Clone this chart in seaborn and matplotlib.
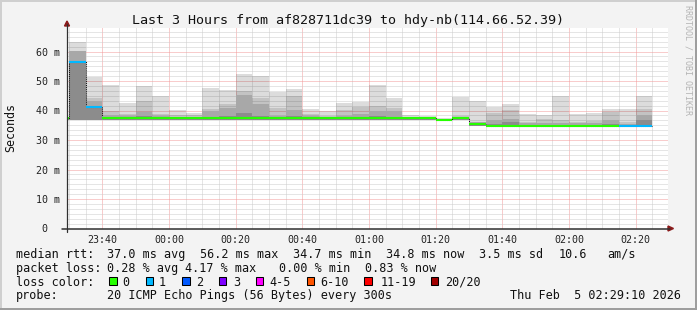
import numpy as np
import pandas as pd
import matplotlib
matplotlib.use("Agg")
import matplotlib.pyplot as plt
from matplotlib.patches import Rectangle, Polygon
from matplotlib.lines import Line2D
import seaborn as sns

# ---------------- data ----------------
bin_times = list(pd.date_range("2026-02-04 23:25", periods=36, freq="5min"))  # 5-minute steps
median_rtt = [37.3, 56.4, 41.3, 37.3, 37.3, 37.3, 37.3, 37.3, 37.3, 37.3,
              37.3, 37.3, 37.3, 37.3, 37.3, 37.3, 37.3, 37.3, 37.3, 37.3,
              37.3, 37.3, 37.3, 36.8, 37.5, 35.3, 34.9, 34.9, 34.9, 34.9,
              34.9, 34.9, 34.9, 34.9, 34.9, 34.9]
loss_count = [0, 1, 1, 0, 0, 0, 0, 0, 0, 0, 0, 0, 0, 0, 0, 0, 0, 0, 0, 0,
              0, 0, 0, 0, 0, 0, 0, 0, 0, 0, 0, 0, 0, 0, 1, 1]
smoke_bottom = [36.9] * 25 + [34.8] * 11
smoke_max = [37.3, 63.2, 51.3, 48.5, 42.5, 48.2, 44.8, 40.3, 39.2, 47.6,
             46.9, 52.3, 51.7, 46.2, 47.3, 40.4, 39.8, 42.7, 43.0, 48.6,
             44.1, 38.5, 38.1, 37.4, 44.7, 43.2, 41.3, 42.1, 38.8, 38.5,
             44.9, 38.7, 39.3, 40.5, 40.5, 44.9]
smoke_q2 = [37.3, 60.1, 44.2, 39.7, 38.8, 43.1, 38.8, 38.4, 38.4, 40.6,
            42.1, 46.6, 44.3, 40.7, 45.0, 38.7, 38.3, 40.2, 41.3, 41.6,
            41.0, 37.9, 37.7, 37.2, 38.1, 36.2, 39.3, 40.2, 36.2, 37.1,
            36.8, 36.2, 36.5, 39.6, 36.0, 40.5]
smoke_q3 = [37.3, 60.1, 43.3, 38.4, 38.0, 39.5, 38.0, 37.8, 37.8, 39.7,
            40.7, 45.3, 42.1, 38.2, 40.2, 38.0, 37.8, 38.2, 38.7, 39.8,
            39.8, 37.6, 37.5, 37.0, 37.8, 36.0, 36.8, 37.0, 35.6, 35.8,
            35.8, 35.6, 35.8, 36.8, 35.5, 38.5]
smoke_q4 = [37.3, 56.4, 41.3, 37.8, 37.5, 38.0, 37.5, 37.5, 37.5, 37.8,
            38.2, 39.3, 38.3, 37.6, 38.0, 37.5, 37.5, 37.6, 37.8, 38.0,
            37.8, 37.4, 37.4, 36.9, 37.6, 35.8, 35.4, 36.2, 35.2, 35.2,
            35.2, 35.2, 35.2, 35.5, 35.2, 36.8]

x_tick_labels = ["23:40", "00:00", "00:20", "00:40", "01:00", "01:20", "01:40", "02:00", "02:20"]
y_tick_values = [0, 10, 20, 30, 40, 50, 60]
y_tick_labels = ["0", "10 m", "20 m", "30 m", "40 m", "50 m", "60 m"]

loss_labels = ["0", "1", "2", "3", "4-5", "6-10", "11-19", "20/20"]
loss_colors = ["#26ff00", "#00b8ff", "#0059ff", "#7e00ff", "#ff00ff", "#ff5500", "#ff0000", "#a10000"]

title = "Last 3 Hours from af828711dc39 to hdy-nb(114.66.52.39)"
stats_rtt = ["37.0 ms avg", "56.2 ms max", "34.7 ms min", "34.8 ms now", "3.5 ms sd", "10.6", "am/s"]
stats_loss = ["0.28 % avg", "4.17 % max", "0.00 % min", "0.83 % now"]
probe_text = "20 ICMP Echo Pings (56 Bytes) every 300s"
date_text = "Thu Feb  5 02:29:10 2026"

# ---------------- setup ----------------
sns.set_style("white")
plt.rcParams["font.family"] = ["DejaVu Sans Mono"]
W, H = 697, 310
fig = plt.figure(figsize=(W / 100, H / 100), dpi=100, facecolor="#f3f3f3")

def fx(px):
    return px / W

def fy(py):
    return 1 - py / H

ax_l, ax_r, ax_t, ax_b = 67, 668, 28, 228.5
ax = fig.add_axes([fx(ax_l), fy(ax_b), (ax_r - ax_l) / W, (ax_b - ax_t) / H])
ax.set_facecolor("white")
for s in ax.spines.values():
    s.set_visible(False)

t0 = pd.Timestamp("2026-02-04 23:30")
def to_min(ts):
    return (ts - t0).total_seconds() / 60.0

x_start = np.array([to_min(t) for t in bin_times])
step = 5.0

# smoke layers, lightest first (light ones translucent so the grid shows through)
layers = [(smoke_max, (0, 0, 0, 0.137)), (smoke_q2, (0, 0, 0, 0.11)),
          (smoke_q3, "#a8a8a8"), (smoke_q4, "#8c8c8c")]
bot = np.array(smoke_bottom)
for tops, col in layers:
    tops = np.array(tops)
    ax.bar(x_start, tops - bot, bottom=bot, width=step, align="edge", color=col,
           linewidth=0, zorder=1)

# black dotted step connector of the median
step_df = pd.DataFrame({"t": list(x_start) + [x_start[-1] + step],
                        "rtt": median_rtt + [median_rtt[-1]]})
sns.lineplot(data=step_df, x="t", y="rtt", drawstyle="steps-post", color="#111111",
             linewidth=0.75, linestyle=(0, (1, 1)), ax=ax, zorder=3)

# median line coloured by loss
rows = []
for i, (xs, m, lc) in enumerate(zip(x_start, median_rtt, loss_count)):
    rows.append({"bin": i, "t": xs, "rtt": m, "loss": str(lc)})
    rows.append({"bin": i, "t": xs + step, "rtt": m, "loss": str(lc)})
med_df = pd.DataFrame(rows)
palette = {"0": loss_colors[0], "1": loss_colors[1]}
sns.lineplot(data=med_df, x="t", y="rtt", hue="loss", units="bin", estimator=None,
             palette=palette, linewidth=1.5, legend=False, ax=ax, zorder=4)
for ln in ax.lines[1:]:
    ln.set_solid_capstyle("butt")

# axes limits
px_per_min = 10 / 3.0
x_left = (ax_l - 69.0) / px_per_min
x_right = x_left + (ax_r - ax_l) / px_per_min
ax.set_xlim(x_left, x_right)
ax.set_ylim(0, (ax_b - ax_t) / 2.95)

def label_min(lbl):
    h, m = map(int, lbl.split(":"))
    mins = h * 60 + m - (23 * 60 + 30)
    if mins < -60:
        mins += 24 * 60
    return mins

major_x = [label_min(l) for l in x_tick_labels]
minor_x = [v for v in np.arange(0, 181, 5) if v not in major_x and x_left < v < x_right]
ax.set_xticks(major_x, labels=x_tick_labels)
ax.set_xticks(minor_x, minor=True)
ax.set_yticks(y_tick_values, labels=[l if l != "0" else "0  " for l in y_tick_labels])
minor_y = [k * 10 / 6 for k in range(1, 41) if k % 6 != 0 and k * 10 / 6 < ax.get_ylim()[1]]
ax.set_yticks(minor_y, minor=True)
ax.set_xlabel("")
ax.set_ylabel("")

ax.tick_params(axis="x", which="major", length=0, pad=4.6, labelsize=7.2, labelcolor="#222222")
ax.tick_params(axis="y", which="major", length=0, pad=5.0, labelsize=7.2, labelcolor="#222222")
ax.tick_params(which="minor", length=0)

ax.set_axisbelow(True)
ax.grid(True, which="major", color="#f29a9a", linestyle=(0, (1, 1)), linewidth=0.72)
ax.grid(True, which="minor", color="#cdcdcd", linestyle=(0, (1, 1)), linewidth=0.72)

# axis lines and arrows
axis_col = "#303030"
arrow_col = "#8b1a1a"
fig.add_artist(Line2D([fx(ax_l), fx(ax_l)], [fy(231.5), fy(24)], color=axis_col, linewidth=0.9))
fig.add_artist(Line2D([fx(62), fx(670)], [fy(ax_b), fy(ax_b)], color=axis_col, linewidth=1.1))
fig.add_artist(Polygon([[fx(64.5), fy(26)], [fx(69.5), fy(26)], [fx(67), fy(21)]], closed=True,
                       color=arrow_col, transform=fig.transFigure))
fig.add_artist(Polygon([[fx(668), fy(226)], [fx(668), fy(231)], [fx(673.5), fy(228.5)]], closed=True,
                       color=arrow_col, transform=fig.transFigure))

# texts
txt_col = "#111111"
fig.text(fx(348), fy(24), title, ha="center", va="baseline", fontsize=9.6, color=txt_col)
fig.text(fx(10.5), fy(127.5), "Seconds", rotation=90, ha="center", va="center", fontsize=8.4, color=txt_col)
fig.text(fx(688), fy(5), "RRDTOOL / TOBI OETIKER", rotation=270, ha="center", va="top",
         fontsize=6.0, color="#b4b4b4")

fs = 8.5
row_y = [257.8, 271.8, 285.6, 299.4]
fig.text(fx(15.5), fy(row_y[0]), "median rtt:", fontsize=fs, va="baseline", color=txt_col)
for s, x in zip(stats_rtt, [107.0, 200.3, 293.0, 385.7, 478.7, 558.3, 607.0]):
    fig.text(fx(x), fy(row_y[0]), s, fontsize=fs, va="baseline", color=txt_col)
fig.text(fx(15.5), fy(row_y[1]), "packet loss:", fontsize=fs, va="baseline", color=txt_col)
for s, x in zip(stats_loss, [107.0, 184.7, 278.7, 364.7]):
    fig.text(fx(x), fy(row_y[1]), s, fontsize=fs, va="baseline", color=txt_col)
fig.text(fx(15.5), fy(row_y[2]), "loss color:", fontsize=fs, va="baseline", color=txt_col)
sq_x = [109.3, 145.7, 182.3, 219.0, 255.7, 306.7, 364.3, 430.7]
lab_x = [122.3, 158.7, 196.3, 233.0, 269.7, 320.5, 380.5, 444.8]
for c, l, sx, lx in zip(loss_colors, loss_labels, sq_x, lab_x):
    fig.add_artist(Rectangle((fx(sx), fy(284.5)), 7.4 / W, 7.4 / H, facecolor=c, edgecolor="#000000",
                             linewidth=0.75, transform=fig.transFigure))
    fig.text(fx(lx), fy(row_y[2]), l, fontsize=fs, va="baseline", color=txt_col)
fig.text(fx(15.5), fy(row_y[3]), "probe:", fontsize=fs, va="baseline", color=txt_col)
fig.text(fx(107.0), fy(row_y[3]), probe_text, fontsize=fs, va="baseline", color=txt_col)
fig.text(fx(680.5), fy(row_y[3]), date_text, fontsize=fs, va="baseline", ha="right", color=txt_col)

# 3D border
fig.add_artist(Rectangle((0, fy(2)), 1, 2 / H, facecolor="#cfcfcf", edgecolor="none", transform=fig.transFigure))
fig.add_artist(Rectangle((0, 0), 2 / W, 1, facecolor="#cfcfcf", edgecolor="none", transform=fig.transFigure))
fig.add_artist(Rectangle((0, 0), 1, 2.5 / H, facecolor="#9e9e9e", edgecolor="none", transform=fig.transFigure))
fig.add_artist(Rectangle((fx(695), 0), 2 / W, 1, facecolor="#9e9e9e", edgecolor="none", transform=fig.transFigure))

fig.savefig("out.png", dpi=100, facecolor=fig.get_facecolor())
